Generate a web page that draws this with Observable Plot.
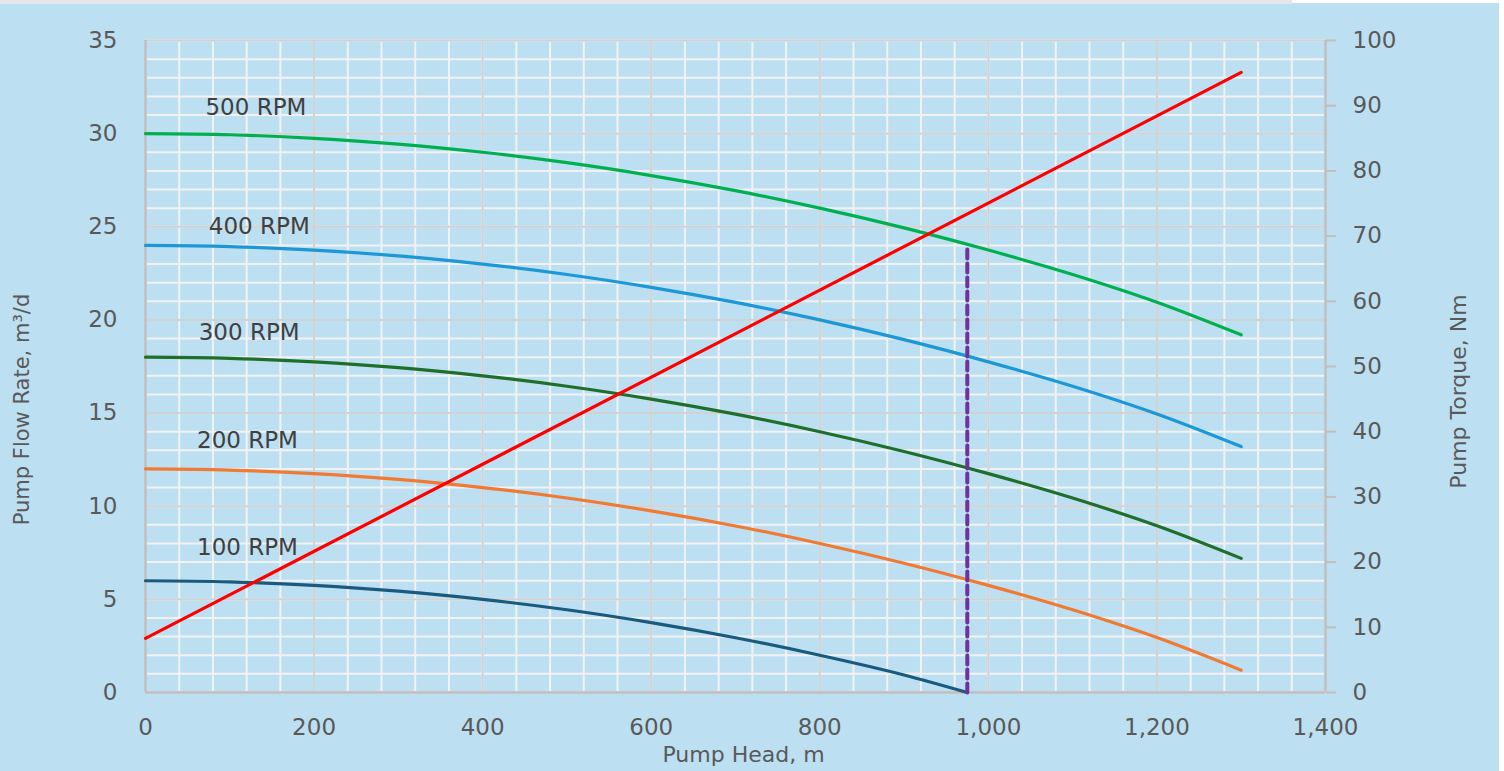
<!DOCTYPE html>
<html>
<head>
<meta charset="utf-8">
<script src="https://cdn.jsdelivr.net/npm/d3@7"></script>
<script src="https://cdn.jsdelivr.net/npm/@observablehq/plot@0.6"></script>
<style>
  html, body { margin: 0; padding: 0; background: #BDDFF2; overflow: hidden; }
  #chart { position: relative; width: 1504px; height: 771px; }
  #strip { position: absolute; left: 0; top: 0; width: 1292px; height: 4px; background: #e4e6e8; }
  #strip2 { position: absolute; left: 1292px; top: 0; width: 212px; height: 3px; background: #ffffff; }
  #edge { position: absolute; right: 0; top: 0; width: 5px; height: 771px; background: #ffffff; }
</style>
</head>
<body>
<div id="chart"><div id="strip"></div><div id="strip2"></div><div id="edge"></div></div>
<script>
// ---- data ----
const heads = [0, 100, 200, 300, 400, 500, 600, 700, 800, 900, 1000, 1100, 1200, 1300];
const flow500 = [30, 29.94, 29.75, 29.44, 29.0, 28.44, 27.75, 26.94, 26.0, 24.94, 23.75, 22.44, 20.95, 19.2];
const flow400 = [24, 23.94, 23.75, 23.44, 23.0, 22.44, 21.75, 20.94, 20.0, 18.94, 17.75, 16.44, 14.95, 13.2];
const flow300 = [18, 17.94, 17.75, 17.44, 17.0, 16.44, 15.75, 14.94, 14.0, 12.94, 11.75, 10.44, 8.95, 7.2];
const flow200 = [12, 11.94, 11.75, 11.44, 11.0, 10.44, 9.75, 8.94, 8.0, 6.94, 5.75, 4.44, 2.95, 1.2];
const heads100 = [0, 100, 200, 300, 400, 500, 600, 700, 800, 900, 975];
const flow100 = [6, 5.94, 5.75, 5.44, 5.0, 4.44, 3.75, 2.94, 2.0, 0.94, 0];

const torqueHeads = [0, 1300];
const torqueValues = [8.3, 95.1];

const operatingHead = [975, 975];
const operatingFlow = [0, 24.0];

const seriesNames = ["500 RPM", "400 RPM", "300 RPM", "200 RPM", "100 RPM"];
const seriesColors = ["#00B050", "#1B98D5", "#1E6F2B", "#F07A32", "#1A5A7E"];
const labelHeads = [131, 135, 123, 121, 121];
const labelFlows = [31.4, 25.0, 19.3, 13.5, 7.8];

const xTicks = [0, 200, 400, 600, 800, 1000, 1200, 1400];
const yTicks = [0, 5, 10, 15, 20, 25, 30, 35];
const torqueTicks = [0, 10, 20, 30, 40, 50, 60, 70, 80, 90, 100];
const flowMax = 35, torqueMax = 100;

// ---- build tables ----
const curves = [
  {name: seriesNames[0], color: seriesColors[0], pts: heads.map((h, i) => ({h, q: flow500[i]}))},
  {name: seriesNames[1], color: seriesColors[1], pts: heads.map((h, i) => ({h, q: flow400[i]}))},
  {name: seriesNames[2], color: seriesColors[2], pts: heads.map((h, i) => ({h, q: flow300[i]}))},
  {name: seriesNames[3], color: seriesColors[3], pts: heads.map((h, i) => ({h, q: flow200[i]}))},
  {name: seriesNames[4], color: seriesColors[4], pts: heads100.map((h, i) => ({h, q: flow100[i]}))}
];
const torque = torqueHeads.map((h, i) => ({h, t: torqueValues[i]}));
const k = flowMax / torqueMax; // right axis mapping onto left scale
const opLine = operatingHead.map((h, i) => ({h, q: operatingFlow[i]}));
const labels = seriesNames.map((n, i) => ({n, h: labelHeads[i], q: labelFlows[i]}));

const minorX = d3.range(0, 1401, 40);
const minorY = d3.range(0, 35.01, 1);

const font = "DejaVu Sans, Verdana, sans-serif";

const chart = Plot.plot({
  width: 1504,
  height: 771,
  marginLeft: 145,
  marginRight: 179,
  marginTop: 40,
  marginBottom: 79,
  style: {background: "transparent", fontFamily: font, fontSize: "23px", color: "#595959", overflow: "visible"},
  x: {domain: [0, 1400]},
  y: {domain: [0, flowMax]},
  marks: [
    Plot.ruleX(minorX, {stroke: "#F2F2F2", strokeWidth: 2}),
    Plot.ruleY(minorY, {stroke: "#F2F2F2", strokeWidth: 2}),
    Plot.ruleX(xTicks, {stroke: "#D2D2D2", strokeWidth: 2}),
    Plot.ruleY(yTicks, {stroke: "#D2D2D2", strokeWidth: 2}),
    Plot.ruleX([0], {stroke: "#BFBFBF", strokeWidth: 2.5}),
    Plot.ruleX([1400], {stroke: "#BFBFBF", strokeWidth: 2.5}),
    Plot.ruleY([0], {stroke: "#BFBFBF", strokeWidth: 2.5}),
    Plot.axisX({ticks: xTicks, tickSize: 0, tickPadding: 26, tickFormat: d3.format(","), fill: "#595959", label: null, fontSize: 23}),
    Plot.axisY({ticks: yTicks, tickSize: 0, tickPadding: 28, fill: "#595959", label: null, fontSize: 23}),
    Plot.axisY({anchor: "right", ticks: torqueTicks.map(t => t * k), tickFormat: d => Math.round(d / k), tickSize: 10, tickPadding: 17, stroke: "#BFBFBF", strokeWidth: 2, fill: "#595959", label: null, fontSize: 23}),
    ...curves.map(c => Plot.line(c.pts, {x: "h", y: "q", stroke: c.color, strokeWidth: 3.2, curve: "monotone-x"})),
    Plot.line(opLine, {x: "h", y: "q", stroke: "#7030A0", strokeWidth: 4, strokeDasharray: "9,5"}),
    Plot.line(torque, {x: "h", y: d => d.t * k, stroke: "#FF0000", strokeWidth: 3.2}),
    Plot.text(labels, {x: "h", y: "q", text: "n", fill: "#404040", fontSize: 23, fontFamily: font}),
    Plot.text(["Pump Head, m"], {frameAnchor: "bottom", lineAnchor: "middle", dx: 8, dy: 62, fill: "#595959", fontSize: 22, fontFamily: font}),
    Plot.text(["Pump Flow Rate, m³/d"], {frameAnchor: "left", textAnchor: "middle", lineAnchor: "middle", rotate: -90, dx: -123, dy: 43, fill: "#595959", fontSize: 21, fontFamily: font}),
    Plot.text(["Pump Torque, Nm"], {frameAnchor: "right", textAnchor: "middle", lineAnchor: "middle", rotate: -90, dx: 133, dy: 25, fill: "#595959", fontSize: 22, fontFamily: font})
  ]
});
chart.style.position = "absolute";
chart.style.left = "0px";
chart.style.top = "0px";
document.getElementById("chart").appendChild(chart);
</script>
</body>
</html>
